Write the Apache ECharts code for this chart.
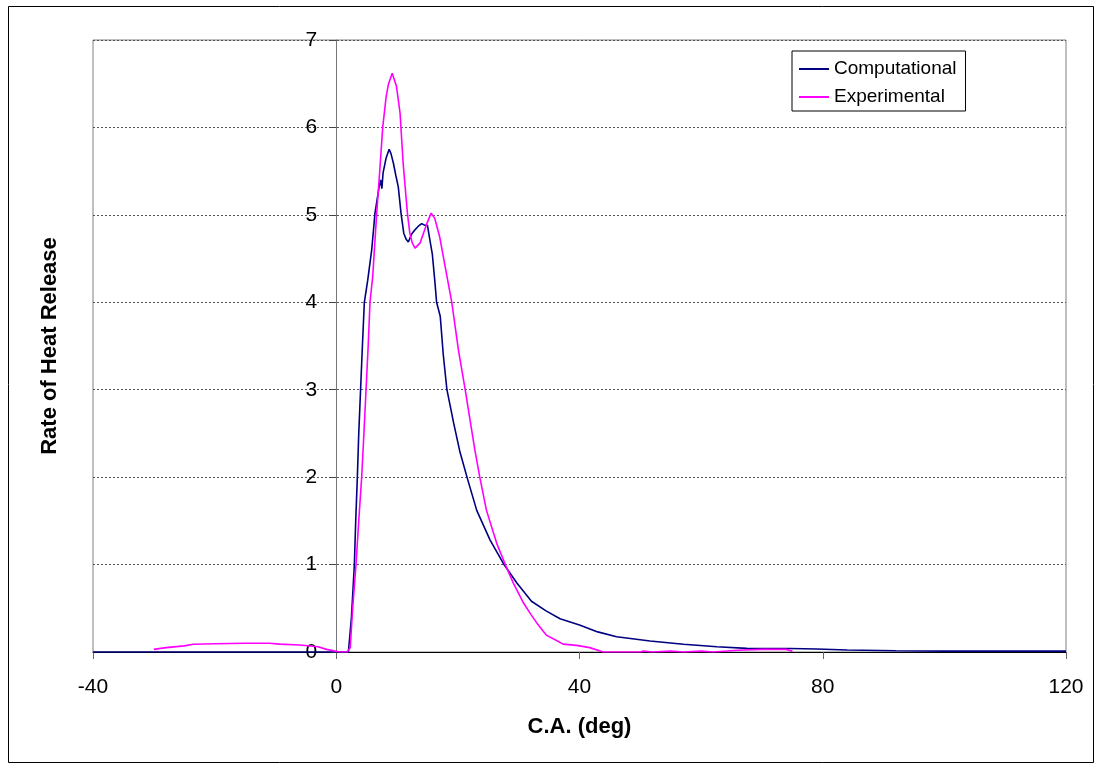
<!DOCTYPE html>
<html>
<head>
<meta charset="utf-8">
<script src="https://cdn.jsdelivr.net/npm/echarts@6/dist/echarts.min.js"></script>
<style>
html,body{margin:0;padding:0;background:#fff;}
#chart{width:1095px;height:765px;}
</style>
</head>
<body>
<div id="chart"></div>
<script>
// ---- Data ----
const seriesNames = ['Computational', 'Experimental'];

const compX = [-40, 2.0, 2.15, 2.5, 2.98, 3.2, 3.47, 3.7, 4.0, 4.3, 4.62, 5.17, 5.83, 6.37, 7.0, 7.3, 7.5, 7.7, 8.2, 8.7, 9.0, 9.4, 9.8, 10.2, 10.65, 11.1, 11.5, 11.85, 12.4, 12.95, 13.5, 14.05, 14.6, 15.0, 15.4, 15.8, 16.2, 16.5, 17.1, 17.6, 18.2, 19.3, 20.3, 21.5, 23.1, 25.3, 27.5, 29.7, 32.1, 34.5, 36.8, 40, 43, 46.1, 51.6, 57.1, 62.6, 67.5, 74.6, 79, 84, 92, 100, 110, 120];
const compY = [0, 0, 0.02, 0.4, 1.0, 1.5, 2.0, 2.5, 3.0, 3.5, 4.0, 4.25, 4.6, 5.02, 5.3, 5.4, 5.3, 5.48, 5.65, 5.75, 5.7, 5.59, 5.45, 5.32, 5.02, 4.79, 4.72, 4.69, 4.78, 4.83, 4.87, 4.9, 4.88, 4.88, 4.71, 4.55, 4.25, 4.0, 3.84, 3.4, 3.0, 2.62, 2.3, 2.0, 1.62, 1.28, 1.01, 0.79, 0.58, 0.47, 0.38, 0.31, 0.23, 0.175, 0.126, 0.088, 0.06, 0.042, 0.04, 0.035, 0.023, 0.015, 0.01, 0.01, 0.01];

const expX = [-30, -28, -25, -23.5, -20, -15, -11, -9.3, -6, -3, -1.6, 0.6, 1.8, 2.3, 2.7, 3.25, 3.7, 4.18, 4.55, 4.9, 5.25, 5.55, 6.0, 6.27, 6.65, 7.15, 7.64, 8.2, 8.6, 9.2, 9.9, 10.5, 11.0, 11.7, 12.1, 12.5, 12.95, 13.8, 14.4, 14.9, 15.6, 16.2, 17.0, 17.9, 19.0, 20.1, 21.2, 22.8, 23.6, 24.7, 26.4, 27.8, 29.1, 30.8, 32.0, 33.0, 34.6, 36.0, 37.3, 39.5, 41.7, 43.9, 50, 50.5, 52, 55, 57, 60, 62, 66, 70, 74, 75];
const expY = [0.03, 0.05, 0.07, 0.088, 0.095, 0.1, 0.1, 0.09, 0.08, 0.06, 0.03, 0, 0, 0.05, 0.5, 1.0, 1.5, 2.0, 2.5, 3.0, 3.5, 4.0, 4.3, 4.6, 5.02, 5.5, 6.0, 6.35, 6.5, 6.62, 6.47, 6.16, 5.59, 5.02, 4.79, 4.68, 4.62, 4.68, 4.8, 4.9, 5.02, 4.96, 4.75, 4.41, 4.0, 3.45, 3.0, 2.31, 2.0, 1.62, 1.24, 1.0, 0.79, 0.56, 0.43, 0.33, 0.19, 0.14, 0.09, 0.076, 0.05, 0, 0, 0.01, 0, 0.01, 0, 0.01, 0, 0.02, 0.03, 0.03, 0.01];

const xTicks = {min: -40, max: 120, interval: 40};
const yTicks = {min: 0, max: 7, interval: 1};
const xTitle = 'C.A. (deg)';
const yTitle = 'Rate of Heat Release';

const zip = (xs, ys) => xs.map((x, i) => [x, ys[i]]);

const chart = echarts.init(document.getElementById('chart'), null, {renderer: 'canvas'});
const FONT = '"Liberation Sans", Arial, sans-serif';

const GRID = {left: 93, top: 40, width: 973, height: 612};
// place the value axis at x = 0 of the horizontal scale
const yAxisOffset = -GRID.width * (0 - xTicks.min) / (xTicks.max - xTicks.min);

chart.setOption({
  animation: false,
  backgroundColor: '#ffffff',
  textStyle: {fontFamily: FONT},
  graphic: [{
    type: 'rect',
    shape: {x: 8.5, y: 6.5, width: 1085, height: 756},
    style: {fill: 'none', stroke: '#000', lineWidth: 1},
    silent: true, z: 0
  }],
  grid: {
    left: GRID.left, top: GRID.top, width: GRID.width, height: GRID.height,
    containLabel: false, outerBoundsMode: 'none',
    show: true, borderColor: '#808080', borderWidth: 1, backgroundColor: 'transparent'
  },
  legend: {
    orient: 'vertical',
    left: 792, top: 51,
    padding: [8, 9, 4, 7],
    icon: 'rect',
    itemWidth: 30, itemHeight: 2, itemGap: 8,
    borderColor: '#000', borderWidth: 1,
    backgroundColor: '#fff',
    textStyle: {fontFamily: FONT, fontSize: 19, color: '#000', lineHeight: 20},
    data: seriesNames
  },
  xAxis: {
    type: 'value',
    min: xTicks.min, max: xTicks.max, interval: xTicks.interval,
    name: xTitle, nameLocation: 'middle', nameGap: 64,
    nameTextStyle: {fontFamily: FONT, fontSize: 22, fontWeight: 'bold', color: '#000'},
    axisLine: {show: true, onZero: false, lineStyle: {color: '#000', width: 1}},
    axisTick: {show: true, length: 7, lineStyle: {color: '#666'}},
    axisLabel: {fontFamily: FONT, fontSize: 21, color: '#000', margin: 25},
    splitLine: {show: false}
  },
  yAxis: {
    type: 'value', position: 'left', offset: yAxisOffset,
    min: yTicks.min, max: yTicks.max, interval: yTicks.interval,
    name: yTitle, nameLocation: 'middle', nameGap: 275, nameRotate: 90,
    nameTextStyle: {fontFamily: FONT, fontSize: 22, fontWeight: 'bold', color: '#000'},
    axisLine: {show: true, onZero: false, lineStyle: {color: '#777', width: 1}},
    axisTick: {show: true, length: 7, lineStyle: {color: '#444'}},
    axisLabel: {fontFamily: FONT, fontSize: 21, color: '#000', margin: 19},
    splitLine: {show: true, lineStyle: {color: '#555', type: [2, 2], width: 1}}
  },
  series: [
    {
      name: seriesNames[0], type: 'line', data: zip(compX, compY),
      symbol: 'none', showSymbol: false, smooth: false,
      lineStyle: {color: '#000080', width: 1.6}, itemStyle: {color: '#000080'}
    },
    {
      name: seriesNames[1], type: 'line', data: zip(expX, expY),
      symbol: 'none', showSymbol: false, smooth: false,
      lineStyle: {color: '#ff00ff', width: 1.6}, itemStyle: {color: '#ff00ff'}
    }
  ]
});
</script>
</body>
</html>
